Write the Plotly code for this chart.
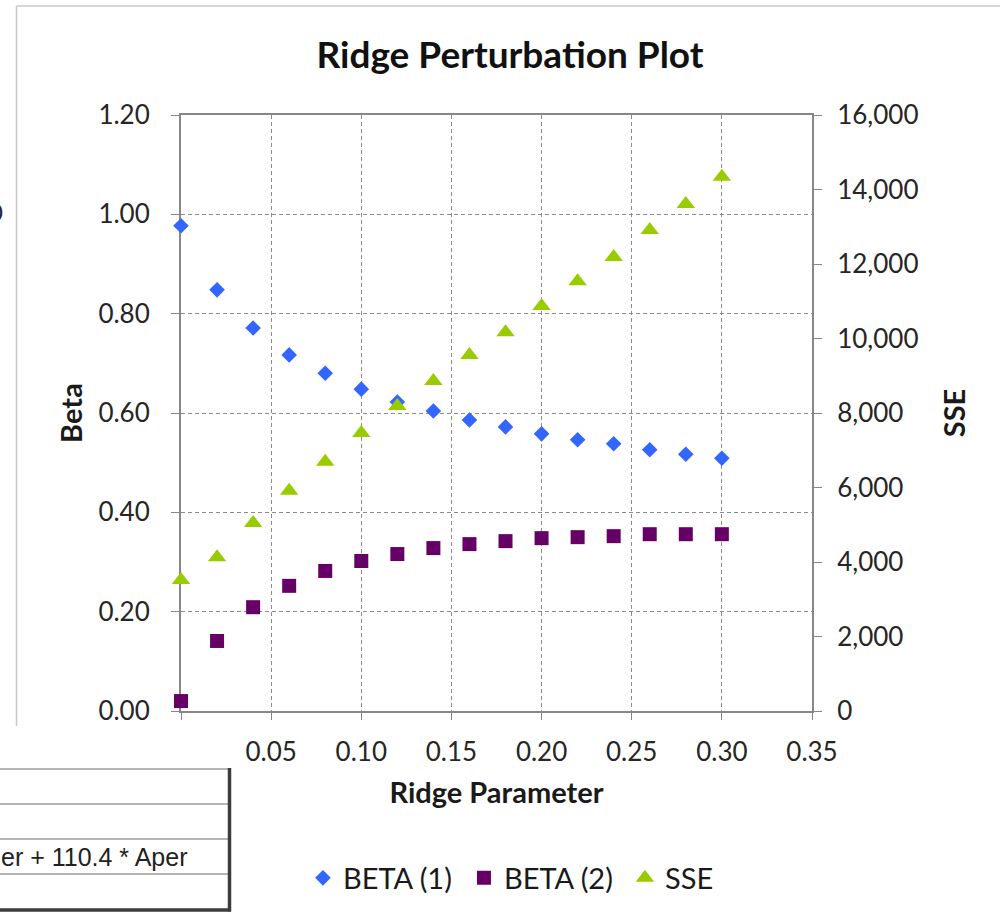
import plotly.graph_objects as go

# Ridge trace: coefficient estimates and SSE against the ridge parameter
ridge_k = [0.00, 0.02, 0.04, 0.06, 0.08, 0.10, 0.12, 0.14,
           0.16, 0.18, 0.20, 0.22, 0.24, 0.26, 0.28, 0.30]
beta_1 = [0.977, 0.848, 0.771, 0.717, 0.680, 0.648, 0.622, 0.604,
          0.586, 0.572, 0.558, 0.546, 0.538, 0.526, 0.517, 0.509]
beta_2 = [0.020, 0.141, 0.209, 0.252, 0.282, 0.302, 0.316, 0.328,
          0.336, 0.342, 0.348, 0.350, 0.352, 0.356, 0.356, 0.356]
sse = [3520, 4130, 5050, 5910, 6690, 7460, 8190, 8860,
       9560, 10170, 10870, 11540, 12190, 12910, 13610, 14340]

x_ticks = [0.00, 0.05, 0.10, 0.15, 0.20, 0.25, 0.30, 0.35]
x_tick_text = ["", "0.05", "0.10", "0.15", "0.20", "0.25", "0.30", "0.35"]

W, H = 1000, 923
L, R, T, B = 181, 188, 115, 212
PW, PH = W - L - R, H - T - B

FONT = "Lato, 'Open Sans', sans-serif"
GRID = "#8c8c8c"
AXIS = "#878787"


def px(xp):
    return (xp - L) / PW


def py(yp):
    return (H - B - yp) / PH


fig = go.Figure()
fig.add_trace(go.Scatter(
    x=ridge_k, y=beta_1, mode="markers", name="BETA (1)",
    marker=dict(symbol="diamond", size=12, color="#3366ff", line=dict(width=0)),
    cliponaxis=False))
fig.add_trace(go.Scatter(
    x=ridge_k, y=beta_2, mode="markers", name="BETA (2)",
    marker=dict(symbol="square", size=14, color="#660066", line=dict(width=0)),
    cliponaxis=False))
fig.add_trace(go.Scatter(
    x=ridge_k, y=sse, mode="markers", name="SSE", yaxis="y2",
    marker=dict(symbol="triangle-up", size=16, color="#99cc00", line=dict(width=0)),
    cliponaxis=False))

tick_font = dict(family=FONT, size=26, color="#262626")
title_font = dict(family=FONT, size=29, color="#1a1a1a")

fig.update_layout(
    width=W, height=H,
    margin=dict(l=L, r=R, t=T, b=B),
    paper_bgcolor="white", plot_bgcolor="white",
    title=dict(text="<b>Ridge Perturbation Plot</b>", x=510 / W, xanchor="center",
               y=1 - 55 / H, yanchor="middle",
               font=dict(family=FONT, size=37, color="#111111")),
    xaxis=dict(range=[0, 0.35], tickvals=x_ticks, ticktext=x_tick_text,
               showgrid=True, gridcolor=GRID, griddash="4px,3px", gridwidth=1,
               showline=True, linecolor=AXIS, linewidth=2, mirror=True,
               ticks="outside", ticklen=7, tickcolor=AXIS, tickwidth=1,
               ticklabelstandoff=10, zeroline=False, layer="below traces",
               tickfont=tick_font,
               title=dict(text="<b>Ridge Parameter</b>", font=title_font, standoff=16)),
    yaxis=dict(range=[0, 1.2], dtick=0.2, tick0=0, tickformat=".2f",
               showgrid=True, gridcolor=GRID, griddash="4px,3px", gridwidth=1,
               showline=True, linecolor=AXIS, linewidth=2, mirror=True,
               ticks="outside", ticklen=8, tickcolor=AXIS, tickwidth=1,
               ticklabelstandoff=16, zeroline=False, layer="below traces",
               tickfont=tick_font,
               title=dict(text="<b>Beta</b>", font=title_font, standoff=7)),
    yaxis2=dict(range=[0, 16000], dtick=2000, tick0=0, tickformat=",",
                overlaying="y", side="right", showgrid=False,
                showline=True, linecolor=AXIS, linewidth=2,
                ticks="outside", ticklen=8, tickcolor=AXIS, tickwidth=1,
                ticklabelstandoff=10, zeroline=False, layer="below traces",
                tickfont=tick_font,
                title=dict(text="<b>SSE</b>", font=title_font, standoff=27)),
    legend=dict(orientation="h", x=0.576, xanchor="center",
                y=py(878), yanchor="middle",
                font=dict(family=FONT, size=29, color="#1a1a1a"),
                itemwidth=30, entrywidth=116, entrywidthmode="pixels",
                bgcolor="rgba(0,0,0,0)"),
    showlegend=True,
)

# Surrounding chart frame (left and top edges)
frame = dict(type="line", xref="paper", yref="paper",
             line=dict(color="#c8c8c8", width=1.5))
fig.add_shape(**frame, x0=px(16.5), y0=py(6), x1=px(16.5), y1=py(726))
fig.add_shape(**frame, x0=px(16.5), y0=py(6), x1=px(1000), y1=py(6))

# Neighbouring table fragment at the lower left
fig.add_shape(type="rect", xref="paper", yref="paper",
              x0=px(-5), y0=py(769), x1=px(229), y1=py(910),
              fillcolor="white", line=dict(width=0))
for row_y in [769, 804, 839, 874]:
    fig.add_shape(type="line", xref="paper", yref="paper",
                  x0=px(-5), y0=py(row_y), x1=px(229), y1=py(row_y),
                  line=dict(color="#b4b4b4", width=2))
fig.add_shape(type="line", xref="paper", yref="paper",
              x0=px(-5), y0=py(910), x1=px(231), y1=py(910),
              line=dict(color="#3c3c3c", width=3.5))
fig.add_shape(type="line", xref="paper", yref="paper",
              x0=px(229.5), y0=py(768), x1=px(229.5), y1=py(911.5),
              line=dict(color="#3c3c3c", width=3.5))
fig.add_annotation(xref="paper", yref="paper", x=px(189), y=py(857),
                   xanchor="right", yanchor="middle", showarrow=False,
                   text="er + 110.4 * Aper",
                   font=dict(family="'Liberation Sans', sans-serif",
                             size=25, color="#222222"))
fig.add_annotation(xref="paper", yref="paper", x=px(-4), y=py(211),
                   xanchor="center", yanchor="middle", showarrow=False,
                   text="0", font=dict(family=FONT, size=24, color="#262626"))

fig.write_html("out.html")
